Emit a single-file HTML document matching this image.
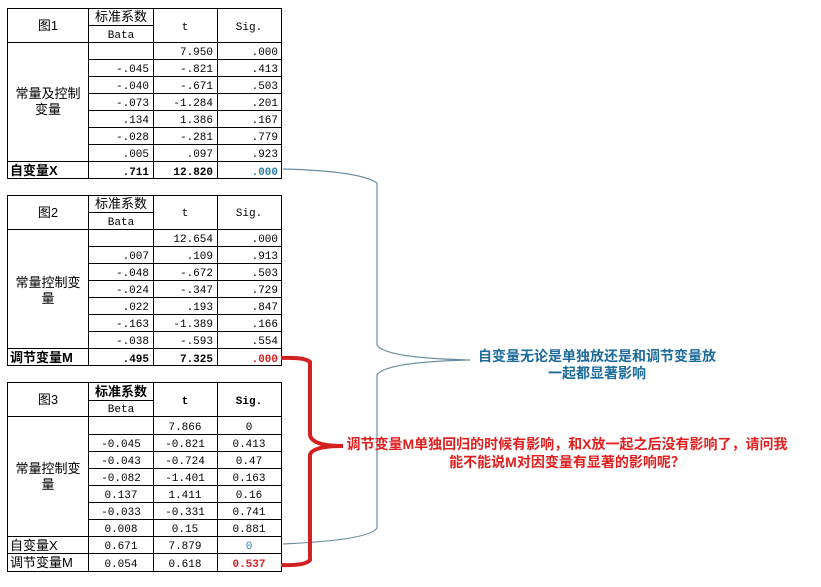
<!DOCTYPE html>
<html><head><meta charset="utf-8"><style>
html,body{margin:0;padding:0;background:#fff;}
svg{display:block;}
.c{font-family:"Liberation Sans","Noto Sans CJK SC",sans-serif;font-size:13px;fill:#000;}
.n{font-family:"Liberation Mono","Noto Sans CJK SC",monospace;font-size:11px;fill:#000;}
.b{font-weight:bold;}
line,rect{stroke:#000;stroke-width:1;}
</style></head><body>
<svg width="821" height="587" xmlns="http://www.w3.org/2000/svg">
<!-- Table 1 -->
<g fill="none" stroke="#000">
<rect x="7.5" y="8.5" width="274" height="170"/>
<line x1="88.5" y1="8" x2="88.5" y2="178"/>
<line x1="153.5" y1="8" x2="153.5" y2="178"/>
<line x1="217.5" y1="8" x2="217.5" y2="178"/>
<line x1="88" y1="25.5" x2="153" y2="25.5"/>
<line x1="7" y1="42.5" x2="281" y2="42.5"/>
<line x1="88" y1="59.5" x2="281" y2="59.5"/>
<line x1="88" y1="76.5" x2="281" y2="76.5"/>
<line x1="88" y1="93.5" x2="281" y2="93.5"/>
<line x1="88" y1="110.5" x2="281" y2="110.5"/>
<line x1="88" y1="127.5" x2="281" y2="127.5"/>
<line x1="88" y1="144.5" x2="281" y2="144.5"/>
<line x1="7" y1="161.5" x2="281" y2="161.5"/>
</g>
<text class="c" x="48" y="30" text-anchor="middle">图1</text>
<text class="c" x="121" y="21" text-anchor="middle">标准系数</text>
<text class="n" x="121" y="38" text-anchor="middle">Bata</text>
<text class="n" x="185" y="30" text-anchor="middle">t</text>
<text class="n" x="249" y="30" text-anchor="middle">Sig.</text>
<text class="c" x="48" y="98" text-anchor="middle">常量及控制</text>
<text class="c" x="48" y="114" text-anchor="middle">变量</text>
<g class="n" text-anchor="end">
<text x="213" y="55">7.950</text><text x="278" y="55">.000</text>
<text x="149" y="72">-.045</text><text x="213" y="72">-.821</text><text x="278" y="72">.413</text>
<text x="149" y="89">-.040</text><text x="213" y="89">-.671</text><text x="278" y="89">.503</text>
<text x="149" y="106">-.073</text><text x="213" y="106">-1.284</text><text x="278" y="106">.201</text>
<text x="149" y="123">.134</text><text x="213" y="123">1.386</text><text x="278" y="123">.167</text>
<text x="149" y="140">-.028</text><text x="213" y="140">-.281</text><text x="278" y="140">.779</text>
<text x="149" y="157">.005</text><text x="213" y="157">.097</text><text x="278" y="157">.923</text>
<text x="149" y="175" class="b">.711</text><text x="213" y="175" class="b">12.820</text><text x="278" y="175" class="b" fill="#2a7fa8">.000</text>
</g>
<text class="c b" x="10" y="175">自变量X</text>

<!-- Table 2 -->
<g fill="none" stroke="#000">
<rect x="7.5" y="195.5" width="274" height="170"/>
<line x1="88.5" y1="195" x2="88.5" y2="365"/>
<line x1="153.5" y1="195" x2="153.5" y2="365"/>
<line x1="217.5" y1="195" x2="217.5" y2="365"/>
<line x1="88" y1="212.5" x2="153" y2="212.5"/>
<line x1="7" y1="229.5" x2="281" y2="229.5"/>
<line x1="88" y1="246.5" x2="281" y2="246.5"/>
<line x1="88" y1="263.5" x2="281" y2="263.5"/>
<line x1="88" y1="280.5" x2="281" y2="280.5"/>
<line x1="88" y1="297.5" x2="281" y2="297.5"/>
<line x1="88" y1="314.5" x2="281" y2="314.5"/>
<line x1="88" y1="331.5" x2="281" y2="331.5"/>
<line x1="7" y1="348.5" x2="281" y2="348.5"/>
</g>
<text class="c" x="48" y="217" text-anchor="middle">图2</text>
<text class="c" x="121" y="208" text-anchor="middle">标准系数</text>
<text class="n" x="121" y="225" text-anchor="middle">Bata</text>
<text class="n" x="185" y="216" text-anchor="middle">t</text>
<text class="n" x="249" y="216" text-anchor="middle">Sig.</text>
<text class="c" x="48" y="287" text-anchor="middle">常量控制变</text>
<text class="c" x="48" y="303" text-anchor="middle">量</text>
<g class="n" text-anchor="end">
<text x="213" y="242">12.654</text><text x="278" y="242">.000</text>
<text x="149" y="259">.007</text><text x="213" y="259">.109</text><text x="278" y="259">.913</text>
<text x="149" y="276">-.048</text><text x="213" y="276">-.672</text><text x="278" y="276">.503</text>
<text x="149" y="293">-.024</text><text x="213" y="293">-.347</text><text x="278" y="293">.729</text>
<text x="149" y="310">.022</text><text x="213" y="310">.193</text><text x="278" y="310">.847</text>
<text x="149" y="327">-.163</text><text x="213" y="327">-1.389</text><text x="278" y="327">.166</text>
<text x="149" y="344">-.038</text><text x="213" y="344">-.593</text><text x="278" y="344">.554</text>
<text x="149" y="362" class="b">.495</text><text x="213" y="362" class="b">7.325</text><text x="278" y="362" class="b" fill="#d42020">.000</text>
</g>
<text class="c b" x="10" y="362">调节变量M</text>

<!-- Table 3 -->
<g fill="none" stroke="#000">
<rect x="7.5" y="382.5" width="274" height="189"/>
<line x1="88.5" y1="382" x2="88.5" y2="571"/>
<line x1="153.5" y1="382" x2="153.5" y2="571"/>
<line x1="217.5" y1="382" x2="217.5" y2="571"/>
<line x1="88" y1="400.5" x2="153" y2="400.5"/>
<line x1="7" y1="416.5" x2="281" y2="416.5"/>
<line x1="88" y1="434.5" x2="281" y2="434.5"/>
<line x1="88" y1="451.5" x2="281" y2="451.5"/>
<line x1="88" y1="468.5" x2="281" y2="468.5"/>
<line x1="88" y1="485.5" x2="281" y2="485.5"/>
<line x1="88" y1="502.5" x2="281" y2="502.5"/>
<line x1="88" y1="519.5" x2="281" y2="519.5"/>
<line x1="7" y1="536.5" x2="281" y2="536.5"/>
<line x1="7" y1="553.5" x2="281" y2="553.5"/>
</g>
<text class="c" x="48" y="404" text-anchor="middle">图3</text>
<text class="c b" x="121" y="396" text-anchor="middle">标准系数</text>
<text class="n" x="121" y="412" text-anchor="middle">Beta</text>
<text class="n b" x="185" y="404" text-anchor="middle">t</text>
<text class="n b" x="249" y="404" text-anchor="middle">Sig.</text>
<text class="c" x="48" y="473" text-anchor="middle">常量控制变</text>
<text class="c" x="48" y="489" text-anchor="middle">量</text>
<g class="n" text-anchor="middle">
<text x="185" y="430">7.866</text><text x="249" y="430">0</text>
<text x="121" y="447">-0.045</text><text x="185" y="447">-0.821</text><text x="249" y="447">0.413</text>
<text x="121" y="464">-0.043</text><text x="185" y="464">-0.724</text><text x="249" y="464">0.47</text>
<text x="121" y="481">-0.082</text><text x="185" y="481">-1.401</text><text x="249" y="481">0.163</text>
<text x="121" y="498">0.137</text><text x="185" y="498">1.411</text><text x="249" y="498">0.16</text>
<text x="121" y="515">-0.033</text><text x="185" y="515">-0.331</text><text x="249" y="515">0.741</text>
<text x="121" y="532">0.008</text><text x="185" y="532">0.15</text><text x="249" y="532">0.881</text>
<text x="121" y="549">0.671</text><text x="185" y="549">7.879</text><text x="249" y="549" fill="#2a7fa8">0</text>
<text x="121" y="567">0.054</text><text x="185" y="567">0.618</text><text x="249" y="567" class="b" fill="#d42020">0.537</text>
</g>
<text class="c" x="10" y="550">自变量X</text>
<text class="c" x="10" y="567">调节变量M</text>

<!-- Blue brace -->
<path d="M283 169 Q360 171 377 183 L377 345 Q385 358 470 360 M470 360 Q385 362 377 375 L377 528 Q370 540 283 544" fill="none" stroke="#6a8ea0" stroke-width="1.2"/>
<text x="597" y="361" text-anchor="middle" style="font-family:'Liberation Sans','Noto Sans CJK SC',sans-serif;font-size:14px;font-weight:bold;fill:#1c6b9a">自变量无论是单独放还是和调节变量放</text>
<text x="597" y="378" text-anchor="middle" style="font-family:'Liberation Sans','Noto Sans CJK SC',sans-serif;font-size:14px;font-weight:bold;fill:#1c6b9a">一起都显著影响</text>

<!-- Red brace -->
<path d="M281 358 Q305 357 310 362 L310 435 Q312 446 343 446 M343 446 Q312 446 310 455 L310 560 Q305 566 281 565" fill="none" stroke="#d42020" stroke-width="4"/>
<text x="567" y="449" text-anchor="middle" style="font-family:'Liberation Sans','Noto Sans CJK SC',sans-serif;font-size:14px;font-weight:bold;fill:#e02020">调节变量M单独回归的时候有影响，和X放一起之后没有影响了，请问我</text>
<text x="567" y="467" text-anchor="middle" style="font-family:'Liberation Sans','Noto Sans CJK SC',sans-serif;font-size:14px;font-weight:bold;fill:#e02020">能不能说M对因变量有显著的影响呢？</text>
</svg>
</body></html>
